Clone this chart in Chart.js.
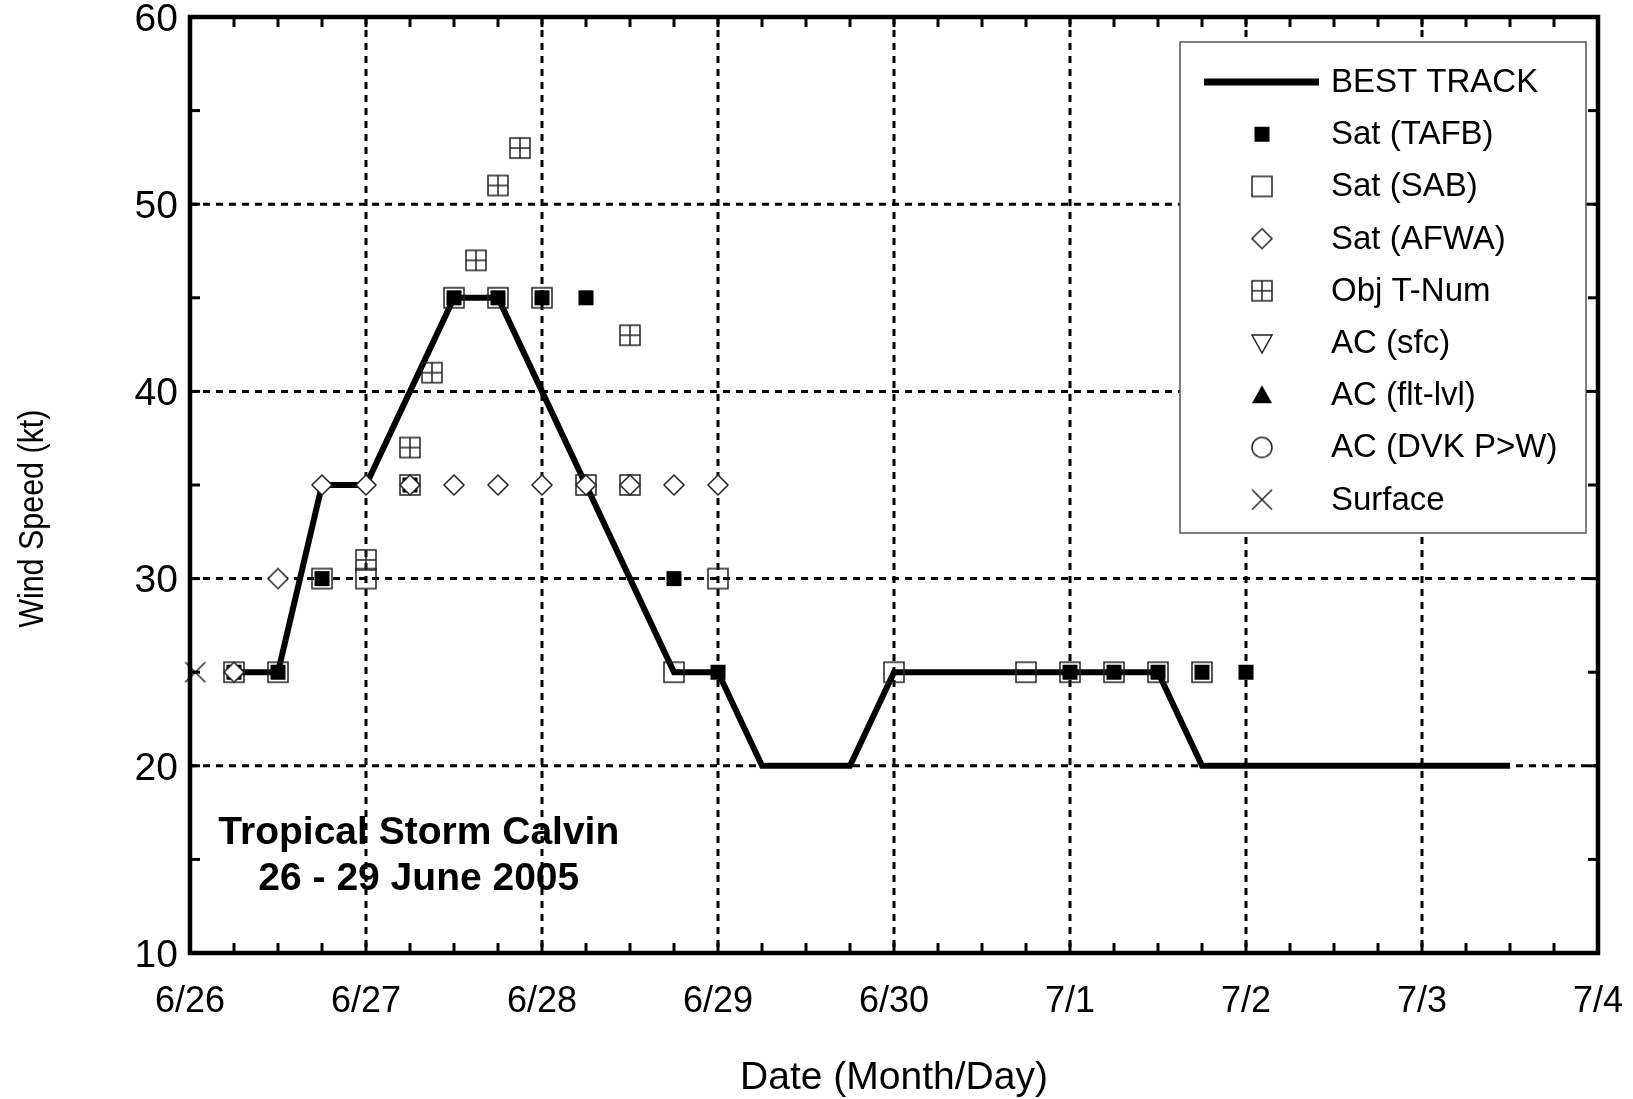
<!DOCTYPE html>
<html>
<head>
<meta charset="utf-8">
<title>Tropical Storm Calvin</title>
<script src="https://cdn.jsdelivr.net/npm/chart.js@4.4.1/dist/chart.umd.min.js"></script>
<style>
    html, body { margin: 0; padding: 0; background: #fff; }
    #wrap { width: 1633px; height: 1099px; }
</style>
</head>
<body>
<div id="wrap"><canvas id="chart" width="1633" height="1099"></canvas></div>
<script>
// x values are days counted from 6/26 00Z
const dayLabels = ['6/26', '6/27', '6/28', '6/29', '6/30', '7/1', '7/2', '7/3', '7/4'];
const noteLines = ['Tropical Storm Calvin', '26 - 29 June 2005'];
const yTitle = 'Wind Speed (kt)';

const bestTrackDay = [0.25, 0.5, 0.75, 1.0, 1.25, 1.5, 1.75, 2.0, 2.25, 2.5, 2.75, 3.0, 3.25, 3.5, 3.75,
                      4.0, 4.25, 4.5, 4.75, 5.0, 5.25, 5.5, 5.75, 6.0, 6.25, 6.5, 6.75, 7.0, 7.25, 7.5];
const bestTrackKt  = [25, 25, 35, 35, 40, 45, 45, 40, 35, 30, 25, 25, 20, 20, 20,
                      25, 25, 25, 25, 25, 25, 25, 20, 20, 20, 20, 20, 20, 20, 20];

const tafbDay = [0.25, 0.5, 0.75, 1.25, 1.5, 1.75, 2.0, 2.25, 2.75, 3.0, 5.0, 5.25, 5.5, 5.75, 6.0];
const tafbKt  = [25, 25, 30, 35, 45, 45, 45, 45, 30, 25, 25, 25, 25, 25, 25];

const sabDay = [0.25, 0.5, 0.75, 1.0, 1.25, 1.5, 1.75, 2.0, 2.25, 2.5, 2.75, 3.0, 4.0, 4.75, 5.0, 5.25, 5.5, 5.75];
const sabKt  = [25, 25, 30, 30, 35, 45, 45, 45, 35, 35, 25, 30, 25, 25, 25, 25, 25, 25];

const afwaDay = [0.25, 0.5, 0.75, 1.0, 1.25, 1.5, 1.75, 2.0, 2.25, 2.5, 2.75, 3.0];
const afwaKt  = [25, 30, 35, 35, 35, 35, 35, 35, 35, 35, 35, 35];

const tnumDay = [1.0, 1.25, 1.375, 1.625, 1.75, 1.875, 2.5];
const tnumKt  = [31, 37, 41, 47, 51, 53, 43];

const acSfcDay = [];
const acSfcKt = [];
const acFltDay = [];
const acFltKt = [];
const acDvkDay = [];
const acDvkKt = [];

const surfaceDay = [0.03];
const surfaceKt  = [25];

function pts(xs, ys) {
    return xs.map((x, i) => ({ x: x, y: ys[i] }));
}

// small canvases used as point styles (and again in the legend)
function makeMarker(kind, size) {
    let c = document.createElement('canvas');
    c.width = size + 4;
    c.height = size + 4;
    let g = c.getContext('2d');
    let m = c.width / 2, h = size / 2;
    g.lineWidth = 1.5;
    g.strokeStyle = '#222';
    g.fillStyle = '#000';
    if (kind == 'filledSquare') {
        g.fillRect(m - h, m - h, size, size);
    } else if (kind == 'openSquare') {
        g.strokeRect(m - h, m - h, size, size);
    } else if (kind == 'diamond') {
        g.beginPath();
        g.moveTo(m, m - h); g.lineTo(m + h, m); g.lineTo(m, m + h); g.lineTo(m - h, m);
        g.closePath();
        g.fillStyle = '#fff';
        g.fill();
        g.stroke();
    } else if (kind == 'gridSquare') {
        g.strokeRect(m - h, m - h, size, size);
        g.beginPath();
        g.moveTo(m, m - h); g.lineTo(m, m + h);
        g.moveTo(m - h, m); g.lineTo(m + h, m);
        g.stroke();
    } else if (kind == 'triDown') {
        g.beginPath();
        g.moveTo(m - h, m - h * 0.8); g.lineTo(m + h, m - h * 0.8); g.lineTo(m, m + h);
        g.closePath();
        g.stroke();
    } else if (kind == 'triUp') {
        g.beginPath();
        g.moveTo(m - h, m + h * 0.8); g.lineTo(m + h, m + h * 0.8); g.lineTo(m, m - h);
        g.closePath();
        g.fill();
    } else if (kind == 'circle') {
        g.beginPath();
        g.arc(m, m, h, 0, Math.PI * 2);
        g.stroke();
    } else if (kind == 'cross') {
        g.beginPath();
        g.moveTo(m - h, m - h); g.lineTo(m + h, m + h);
        g.moveTo(m + h, m - h); g.lineTo(m - h, m + h);
        g.stroke();
    }
    return c;
}

const mk = {
    tafb: makeMarker('filledSquare', 15),
    sab: makeMarker('openSquare', 20),
    afwa: makeMarker('diamond', 20),
    tnum: makeMarker('gridSquare', 20),
    acSfc: makeMarker('triDown', 20),
    acFlt: makeMarker('triUp', 20),
    acDvk: makeMarker('circle', 20),
    surface: makeMarker('cross', 20)
};

function line(ctx, x1, y1, x2, y2) {
    ctx.beginPath();
    ctx.moveTo(x1, y1);
    ctx.lineTo(x2, y2);
    ctx.stroke();
}

const calvinPlugin = {
    id: 'calvin',
    beforeDatasetsDraw(chart) {
        let ctx = chart.ctx, a = chart.chartArea;
        let xs = chart.scales.x, ys = chart.scales.y;
        ctx.save();
        // storm name note
        ctx.fillStyle = '#000';
        ctx.font = 'bold 39px "Liberation Sans", Arial, sans-serif';
        ctx.textAlign = 'center';
        ctx.textBaseline = 'middle';
        ctx.fillText(noteLines[0], xs.getPixelForValue(1.3), ys.getPixelForValue(16.38));
        ctx.fillText(noteLines[1], xs.getPixelForValue(1.3), ys.getPixelForValue(13.93));
        // dashed grid
        ctx.strokeStyle = '#000';
        ctx.lineWidth = 3;
        ctx.setLineDash([7, 6]);
        for (let d = 1; d < dayLabels.length - 1; d++) {
            let px = xs.getPixelForValue(d);
            line(ctx, px, a.top, px, a.bottom);
        }
        for (let k = 20; k < 60; k += 10) {
            let py = ys.getPixelForValue(k);
            line(ctx, a.left, py, a.right, py);
        }
        ctx.restore();
    },
    afterDatasetsDraw(chart) {
        let ctx = chart.ctx, a = chart.chartArea;
        let xs = chart.scales.x, ys = chart.scales.y;
        ctx.save();
        ctx.strokeStyle = '#000';
        ctx.setLineDash([]);
        // inward ticks on all four sides
        ctx.lineWidth = 3;
        for (let q = 0; q <= 32; q++) {
            let px = xs.getPixelForValue(q / 4);
            line(ctx, px, a.bottom, px, a.bottom - 10);
            line(ctx, px, a.top, px, a.top + 10);
        }
        for (let k = 10; k <= 60; k += 5) {
            let py = ys.getPixelForValue(k);
            line(ctx, a.left, py, a.left + 10, py);
            line(ctx, a.right, py, a.right - 10, py);
        }
        // frame
        ctx.lineWidth = 4.5;
        ctx.strokeRect(a.left, a.top, a.right - a.left, a.bottom - a.top);

        // legend box
        let bx = a.left + 990, by = a.top + 25, bw = 406, bh = 491;
        ctx.fillStyle = '#fff';
        ctx.fillRect(bx, by, bw, bh);
        ctx.lineWidth = 1.5;
        ctx.strokeStyle = '#555';
        ctx.strokeRect(bx, by, bw, bh);
        ctx.font = '33px "Liberation Sans", Arial, sans-serif';
        ctx.textAlign = 'left';
        ctx.textBaseline = 'middle';
        ctx.fillStyle = '#000';
        chart.data.datasets.forEach((ds, i) => {
            let ry = by + 40 + i * 52.2;
            if (ds.showLine) {
                ctx.strokeStyle = '#000';
                ctx.lineWidth = 7;
                line(ctx, bx + 24, ry, bx + 139, ry);
            } else {
                let img = ds.pointStyle;
                ctx.drawImage(img, bx + 82 - img.width / 2, ry - img.height / 2);
            }
            ctx.fillText(ds.label, bx + 151, ry + 1);
        });

        // y axis title, condensed like the original
        ctx.translate(33, ys.getPixelForValue(33.2));
        ctx.rotate(-Math.PI / 2);
        ctx.scale(0.87, 1);
        ctx.font = '35px "Liberation Sans", Arial, sans-serif';
        ctx.textAlign = 'center';
        ctx.textBaseline = 'middle';
        ctx.fillText(yTitle, 0, 0);
        ctx.restore();
    }
};

// the first dataset is drawn on top, so the order value keeps best track at the bottom
function markerSet(label, xsArr, ysArr, style, order) {
    return {
        label: label,
        data: pts(xsArr, ysArr),
        pointStyle: style,
        pointRadius: 10,
        showLine: false,
        clip: false,
        order: order
    };
}

const datasets = [
    {
        label: 'BEST TRACK',
        data: pts(bestTrackDay, bestTrackKt),
        showLine: true,
        borderColor: '#000',
        borderWidth: 6,
        pointRadius: 0,
        tension: 0,
        order: 9
    },
    markerSet('Sat (TAFB)', tafbDay, tafbKt, mk.tafb, 8),
    markerSet('Sat (SAB)', sabDay, sabKt, mk.sab, 7),
    markerSet('Sat (AFWA)', afwaDay, afwaKt, mk.afwa, 6),
    markerSet('Obj T-Num', tnumDay, tnumKt, mk.tnum, 5),
    markerSet('AC (sfc)', acSfcDay, acSfcKt, mk.acSfc, 4),
    markerSet('AC (flt-lvl)', acFltDay, acFltKt, mk.acFlt, 3),
    markerSet('AC (DVK P>W)', acDvkDay, acDvkKt, mk.acDvk, 2),
    markerSet('Surface', surfaceDay, surfaceKt, mk.surface, 1)
];

const ctx = document.getElementById('chart');
const myChart = new Chart(ctx, {
    type: 'scatter',
    data: { datasets: datasets },
    plugins: [calvinPlugin],
    options: {
        responsive: false,
        maintainAspectRatio: false,
        animation: false,
        devicePixelRatio: 1,
        layout: { padding: { top: 17, right: 35, left: 0, bottom: 0 } },
        plugins: {
            legend: { display: false },
            tooltip: { enabled: false }
        },
        scales: {
            x: {
                type: 'linear',
                min: 0,
                max: 8,
                grid: { display: false },
                border: { display: false },
                ticks: {
                    stepSize: 1,
                    padding: 19,
                    color: '#000',
                    maxRotation: 0,
                    font: { family: '"Liberation Sans", Arial, sans-serif', size: 36 },
                    callback: (v) => dayLabels[v]
                },
                title: {
                    display: true,
                    text: 'Date (Month/Day)',
                    color: '#000',
                    padding: { top: 0, bottom: -3 },
                    font: { family: '"Liberation Sans", Arial, sans-serif', size: 39 }
                },
                afterFit(scale) {
                    scale.height = 146;
                    scale.paddingLeft = 0;
                    scale.paddingRight = 0;
                }
            },
            y: {
                min: 10,
                max: 60,
                grid: { display: false },
                border: { display: false },
                ticks: {
                    stepSize: 10,
                    padding: 4,
                    labelOffset: 3,
                    color: '#000',
                    font: { family: '"Liberation Sans", Arial, sans-serif', size: 39 }
                },
                afterFit(scale) {
                    scale.width = 190;
                    scale.paddingTop = 0;
                    scale.paddingBottom = 0;
                }
            }
        }
    }
});
</script>
</body>
</html>
